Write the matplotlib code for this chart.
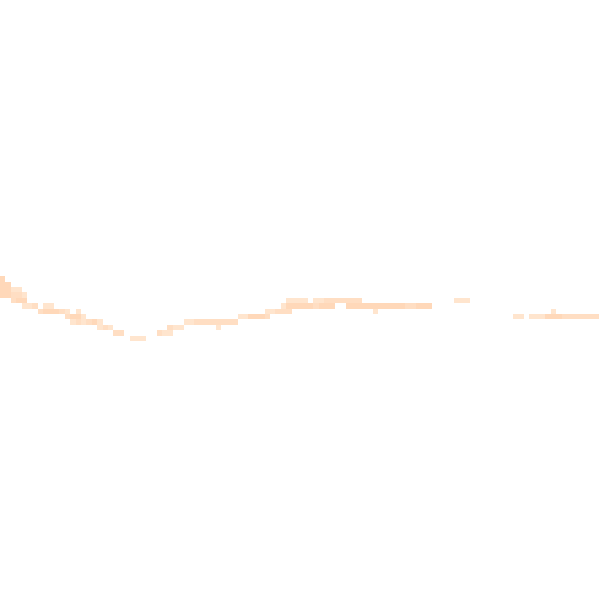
import numpy as np
import matplotlib
matplotlib.use("Agg")
import matplotlib.pyplot as plt
from matplotlib.colors import ListedColormap, BoundaryNorm

# 2D histogram cells: (row, first column, last column, density level 1..3)
seg_row   = [51, 52, 53, 53, 54, 54, 54, 55, 55, 56, 56, 56, 57, 57, 57, 57, 57,
             58, 58, 58, 59, 59, 59, 59, 59, 59, 60, 60, 60, 61, 62, 61, 61,
             60, 60, 60, 59, 59, 58, 58, 58, 57, 57, 56, 56, 56, 56, 56, 56, 56,
             55, 55, 55, 55, 57, 57, 58, 58, 58, 58]
seg_c0    = [0, 0, 0, 2, 0, 2, 4, 2, 3, 4, 6, 8, 7, 8, 11, 12, 14,
             12, 13, 15, 13, 14, 15, 16, 17, 18, 18, 19, 20, 21, 24, 29, 30,
             31, 32, 40, 34, 36, 44, 46, 49, 49, 51, 52, 53, 58, 59, 64, 75, 77,
             53, 58, 60, 84, 69, 102, 95, 98, 101, 104]
seg_c1    = [0, 1, 1, 3, 1, 3, 4, 2, 4, 5, 6, 9, 7, 10, 11, 12, 14,
             12, 14, 15, 13, 14, 15, 16, 17, 18, 18, 19, 20, 22, 26, 29, 31,
             31, 33, 40, 35, 43, 45, 48, 49, 50, 53, 52, 57, 58, 61, 74, 76, 79,
             56, 59, 66, 86, 69, 102, 96, 100, 103, 110]
seg_level = [3, 3, 3, 1, 3, 2, 1, 2, 3, 1, 2, 1, 2, 3, 2, 1, 1,
             2, 3, 1, 1, 2, 1, 2, 3, 1, 1, 2, 1, 2, 1, 2, 1,
             2, 1, 1, 1, 2, 1, 3, 2, 1, 2, 1, 3, 2, 3, 3, 2, 3,
             1, 1, 2, 1, 1, 1, 1, 1, 3, 2]

n_bins = 111
grid = np.zeros((n_bins, n_bins))
for r, a, b, v in zip(seg_row, seg_c0, seg_c1, seg_level):
    grid[r, a:b + 1] = v
grid = np.ma.masked_equal(grid, 0)

cmap = ListedColormap(["#FFE5CE", "#FFDEC3", "#FFD8B9"])
norm = BoundaryNorm([0.5, 1.5, 2.5, 3.5], cmap.N)

fig = plt.figure(figsize=(6, 6), dpi=100)
ax = fig.add_axes([0, 0, 1, 1])
ax.pcolormesh(np.arange(n_bins + 1), np.arange(n_bins + 1), grid,
              cmap=cmap, norm=norm, shading="flat", antialiased=False,
              edgecolors="none")
ax.set_xlim(0, 600 / 5.4)
ax.set_ylim((600 - 0.8) / 5.4, -0.8 / 5.4)
ax.axis("off")
fig.savefig("out.png", dpi=100, facecolor="white")
